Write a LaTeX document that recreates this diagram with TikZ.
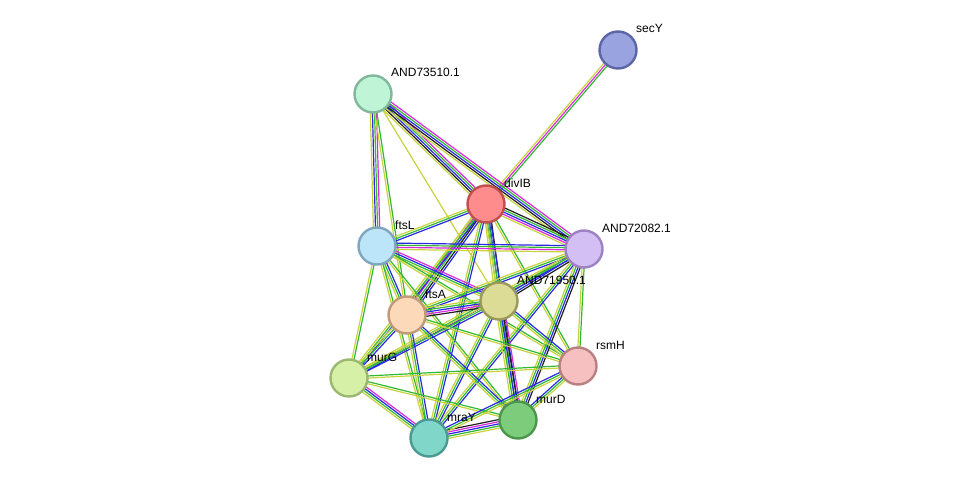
\documentclass[tikz,border=0pt]{standalone}
\usepackage{fontspec}
\setmainfont{Liberation Sans}
\usetikzlibrary{calc,backgrounds}
\definecolor{Y}{RGB}{200,210,60}
\definecolor{G}{RGB}{50,185,50}
\definecolor{B}{RGB}{40,40,230}
\definecolor{M}{RGB}{220,40,220}
\definecolor{K}{RGB}{30,30,30}
\newcommand\lnk[4]{%
  \foreach \c [count=\i] in {#4} {%
    \pgfmathsetmacro\o{(\i-(#3+1)/2)*2.1}%
    \draw[\c, line width=1.2pt] ($(#1.center)!\o pt!90:(#2.center)$) -- ($(#2.center)!\o pt!-90:(#1.center)$);
  }}
\tikzset{
  prot/.style={circle, minimum size=37pt, inner sep=0pt, line width=2.4pt},
  lab/.style={anchor=base west, font=\fontsize{12}{14}\selectfont, inner sep=0pt}
}
\newcommand\prot[6]{%
  \definecolor{f#1}{RGB}{#4}\definecolor{d#1}{RGB}{#5}%
  \node[prot, fill=f#1, draw=d#1] (#1) at (#2,#3) {};
  \node[lab] (#1-l) at (#2+18,#3-17) {#6};}
\begin{document}
\begin{tikzpicture}[x=1pt,y=-1pt]
\useasboundingbox (0,0) rectangle (976,484);
\prot{sec}{618}{50}{153,163,224}{92,102,166}{secY}
\prot{a735}{373}{94}{191,245,214}{127,184,154}{AND73510.1}
\prot{div}{486}{204}{255,140,140}{192,80,80}{divIB}
\prot{ftsL}{377}{246}{189,229,250}{127,166,189}{ftsL}
\prot{a720}{584}{249}{212,191,245}{156,130,194}{AND72082.1}
\prot{a719}{499}{301}{220,220,150}{154,154,90}{AND71950.1}
\prot{ftsA}{407}{315}{252,217,184}{192,154,120}{ftsA}
\prot{rsmH}{578}{366}{247,192,192}{184,128,128}{rsmH}
\prot{murG}{349}{378}{215,240,168}{154,184,112}{murG}
\prot{murD}{518}{420}{124,204,124}{74,150,74}{murD}
\prot{mraY}{429}{438}{128,214,200}{74,154,144}{mraY}
\begin{scope}[on background layer]
\lnk{sec}{div}{3}{Y,M,G}
\lnk{a735}{div}{5}{Y,K,B,G,M}
\lnk{a735}{a720}{5}{Y,K,B,G,M}
\lnk{a735}{ftsL}{4}{Y,B,G,M}
\lnk{a735}{ftsA}{2}{Y,G}
\lnk{a735}{a719}{1}{Y}
\lnk{div}{ftsL}{3}{Y,G,B}
\lnk{div}{a720}{5}{Y,M,B,G,K}
\lnk{div}{a719}{4}{Y,G,B,K}
\lnk{div}{ftsA}{5}{Y,M,G,K,B}
\lnk{div}{murG}{3}{Y,G,B}
\lnk{div}{mraY}{3}{Y,G,B}
\lnk{div}{murD}{3}{Y,G,B}
\lnk{div}{rsmH}{2}{Y,G}
\lnk{ftsL}{a720}{4}{Y,M,G,B}
\lnk{ftsL}{a719}{4}{Y,G,B,M}
\lnk{ftsL}{ftsA}{3}{Y,G,B}
\lnk{ftsL}{murG}{2}{Y,G}
\lnk{ftsL}{mraY}{2}{Y,G}
\lnk{ftsL}{murD}{2}{Y,G}
\lnk{ftsL}{rsmH}{2}{Y,G}
\lnk{a720}{a719}{4}{Y,G,B,K}
\lnk{a720}{ftsA}{3}{Y,G,B}
\lnk{a720}{murG}{3}{Y,G,B}
\lnk{a720}{mraY}{3}{Y,G,B}
\lnk{a720}{murD}{4}{Y,G,B,K}
\lnk{a720}{rsmH}{2}{Y,G}
\lnk{a719}{ftsA}{5}{Y,G,B,M,K}
\lnk{a719}{murG}{3}{Y,G,B}
\lnk{a719}{mraY}{3}{Y,G,B}
\lnk{a719}{murD}{5}{Y,G,B,K,M}
\lnk{a719}{rsmH}{3}{Y,G,B}
\lnk{ftsA}{murG}{3}{Y,G,B}
\lnk{ftsA}{mraY}{3}{Y,G,B}
\lnk{ftsA}{murD}{3}{Y,G,B}
\lnk{ftsA}{rsmH}{2}{Y,G}
\lnk{murG}{mraY}{4}{Y,G,B,M}
\lnk{murG}{murD}{2}{Y,G}
\lnk{murG}{rsmH}{2}{Y,G}
\lnk{mraY}{murD}{5}{Y,G,B,M,K}
\lnk{mraY}{rsmH}{3}{Y,G,B}
\lnk{murD}{rsmH}{3}{Y,G,B}
\end{scope}
\end{tikzpicture}
\end{document}
